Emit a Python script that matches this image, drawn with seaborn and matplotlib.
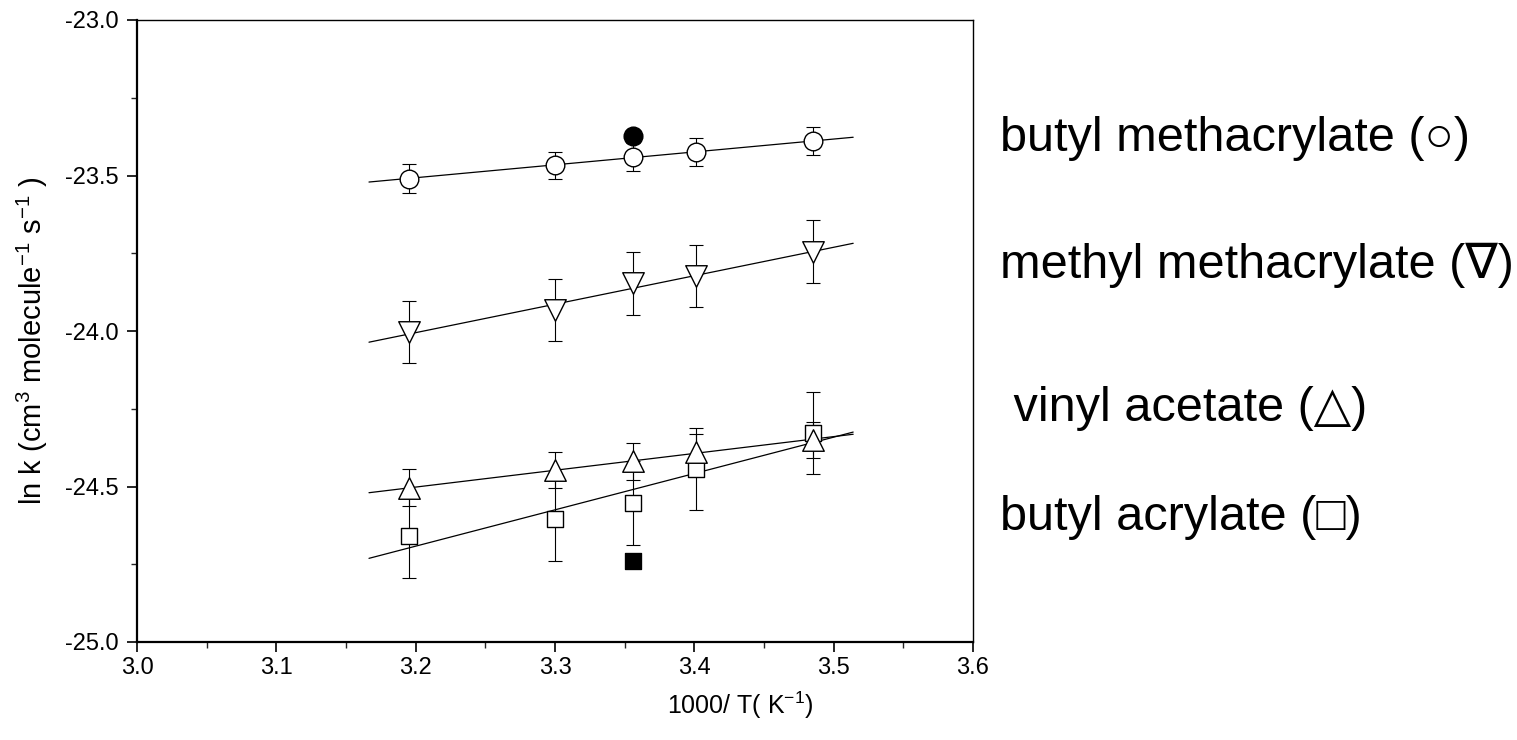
import matplotlib
matplotlib.use("Agg")

import matplotlib.pyplot as plt
import seaborn as sns
from matplotlib.ticker import MultipleLocator

# data
inv_T = [3.195, 3.300, 3.356, 3.401, 3.485]

bma = [-23.510, -23.467, -23.439, -23.424, -23.389]
bma_err = [0.046, 0.044, 0.045, 0.044, 0.045]
mma = [-24.004, -23.932, -23.847, -23.823, -23.745]
mma_err = [0.100, 0.100, 0.100, 0.100, 0.102]
va = [-24.504, -24.448, -24.419, -24.388, -24.351]
va_err = [0.059, 0.058, 0.059, 0.058, 0.058]
ba = [-24.660, -24.605, -24.553, -24.444, -24.328]
ba_err = [0.134, 0.134, 0.134, 0.132, 0.132]

# single literature points (filled)
lit_x = [3.356, 3.356]
lit_y = [-23.372, -24.739]

# fitted lines (end points)
fit_x = [3.1665, 3.514]
fit_bma = [-23.521, -23.377]
fit_mma = [-24.036, -23.718]
fit_va = [-24.520, -24.332]
fit_ba = [-24.731, -24.325]

labels = ["butyl methacrylate (\u25CB)", "methyl methacrylate (\u2207)",
          " vinyl acetate (\u25B3)", "butyl acrylate (\u25A1)"]

sns.set_theme(style="ticks")
plt.rcParams["font.family"] = ["Liberation Sans", "DejaVu Sans"]
plt.rcParams["mathtext.default"] = "regular"
plt.rcParams["axes.unicode_minus"] = False

W, H = 1517, 740
fig = plt.figure(figsize=(W / 100, H / 100), dpi=100)
ax = fig.add_axes([137 / W, 1 - 642 / H, (973 - 137) / W, (642 - 20) / H])

for fy in [fit_bma, fit_mma, fit_va, fit_ba]:
    sns.lineplot(x=fit_x, y=fy, ax=ax, color="black", lw=0.9, zorder=1)

series = [(bma, bma_err, "o", 180), (mma, mma_err, "v", 240),
          (ba, ba_err, "s", 144), (va, va_err, "^", 240)]
for ys, err, mk, sz in series:
    ax.errorbar(inv_T, ys, yerr=err, fmt="none", ecolor="black",
                elinewidth=0.8, capsize=5, capthick=0.8, zorder=2)
    sns.scatterplot(x=inv_T, y=ys, ax=ax, marker=mk, s=sz, facecolor="white",
                    edgecolor="black", linewidth=1.0, zorder=3)

sns.scatterplot(x=lit_x[:1], y=lit_y[:1], ax=ax, marker="o", s=180,
                color="black", edgecolor="black", zorder=3)
sns.scatterplot(x=lit_x[1:], y=lit_y[1:], ax=ax, marker="s", s=144,
                color="black", edgecolor="black", zorder=3)

ax.set_xlim(3.0, 3.6)
ax.set_ylim(-25.0, -23.0)
ax.xaxis.set_major_locator(MultipleLocator(0.1))
ax.xaxis.set_minor_locator(MultipleLocator(0.05))
ax.yaxis.set_major_locator(MultipleLocator(0.5))
ax.yaxis.set_minor_locator(MultipleLocator(0.25))
ax.xaxis.set_major_formatter(plt.FormatStrFormatter("%.1f"))
ax.yaxis.set_major_formatter(plt.FormatStrFormatter("%.1f"))
ax.tick_params(which="major", direction="out", length=7, width=1.2,
               colors="black", pad=4, labelsize=17)
ax.tick_params(axis="y", which="major", pad=6)
ax.tick_params(which="minor", direction="out", length=4, width=1.0)
for side in ["left", "bottom"]:
    ax.spines[side].set_linewidth(1.6)
for side in ["top", "right"]:
    ax.spines[side].set_linewidth(1.0)
for sp in ax.spines.values():
    sp.set_color("black")

ax.set_xlabel("1000/ T( K$^{-1}$)", fontsize=18, color="black")
ax.xaxis.set_label_coords(0.721, -0.077)
ax.set_ylabel("ln k (cm$^{3}$ molecule$^{-1}$ s$^{-1}$ )", fontsize=21,
              color="black")
ax.yaxis.set_label_coords(-0.104, 0.484)
if ax.get_legend():
    ax.get_legend().remove()

baselines = [151, 278, 421, 530]
for lab, yb in zip(labels, baselines):
    fig.text(1000 / W, 1 - yb / H, lab, fontsize=35, va="baseline",
             ha="left", color="black")

fig.savefig("out.png", dpi=100)
